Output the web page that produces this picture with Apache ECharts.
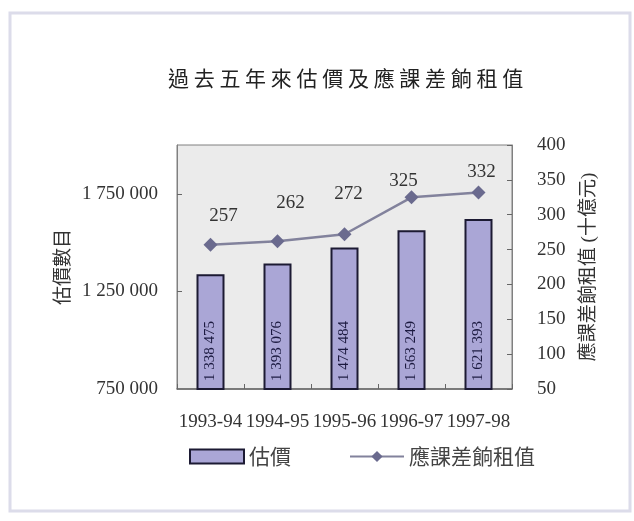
<!DOCTYPE html>
<html>
<head>
<meta charset="utf-8">
<script src="https://cdn.jsdelivr.net/npm/echarts@6/dist/echarts.min.js"></script>
<style>
  html, body { margin: 0; padding: 0; background: #ffffff; }
  #chart { width: 634px; height: 521px; }
</style>
</head>
<body>
<div id="chart"></div>
<script>
// Assessment years
const categories = ['1993-94', '1994-95', '1995-96', '1996-97', '1997-98'];
// Number of assessments (left axis)
const assessmentCounts = [1338475, 1393076, 1474484, 1563249, 1621393];
// Rateable value in HK$ billion (right axis)
const rateableValues = [257, 262, 272, 325, 332];
// Left axis labelled values
const countAxisLabels = [750000, 1250000, 1750000];

const titleText = '過去五年來估價及應課差餉租值';
const barName = '估價';
const lineName = '應課差餉租值';

// Small per-point nudges so value labels sit clear of the line
const lineLabelNudge = [[13, -29], [13, -38], [4, -40], [-8, -16], [3, -20]];

const SERIF = "'Liberation Serif', 'Noto Sans CJK TC', serif";
const CJK = "'Noto Sans CJK TC', sans-serif";

const spaced = s => s.split('').join(' ');
const groupDigits = v => String(v).replace(/\B(?=(\d{3})+(?!\d))/g, ' ');

const chart = echarts.init(document.getElementById('chart'), null, { renderer: 'canvas' });

chart.setOption({
  animation: false,
  backgroundColor: '#ffffff',
  graphic: [{
    type: 'rect',
    shape: { x: 10, y: 13, width: 620, height: 498 },
    style: { fill: null, stroke: '#dcdcea', lineWidth: 3 },
    silent: true
  }],
  title: {
    text: spaced(titleText),
    left: 163,
    top: 63,
    textStyle: { fontFamily: CJK, fontSize: 21, fontWeight: 'normal', color: '#222222' }
  },
  legend: {
    left: 184,
    top: 441,
    itemWidth: 54,
    itemHeight: 14,
    itemGap: 58,
    textStyle: { fontFamily: CJK, fontSize: 21, color: '#444444' },
    data: [{ name: barName, icon: 'rect' }, lineName]
  },
  grid: {
    left: 177,
    top: 145,
    width: 335,
    height: 244,
    show: true,
    backgroundColor: '#ebebeb',
    borderColor: '#808080',
    borderWidth: 1
  },
  xAxis: {
    type: 'category',
    data: categories,
    axisLine: { lineStyle: { color: '#666666', width: 1.5 } },
    axisTick: { show: true, inside: true, length: 5, lineStyle: { color: '#666666' } },
    axisLabel: { interval: 0, margin: 24, fontFamily: SERIF, fontSize: 19, color: '#333333' }
  },
  yAxis: [{
    type: 'value',
    min: 750000,
    max: 2000000,
    interval: 250000,
    name: '估價數目',
    nameLocation: 'middle',
    nameRotate: 90,
    nameGap: 100,
    nameTextStyle: { fontFamily: CJK, fontSize: 19, color: '#333333' },
    splitLine: { show: false },
    axisLine: { show: true, lineStyle: { color: '#808080' } },
    axisTick: { show: true, inside: true, length: 5, customValues: [1250000, 1750000], lineStyle: { color: '#666666' } },
    axisLabel: {
      customValues: countAxisLabels,
      margin: 19,
      fontFamily: SERIF,
      fontSize: 19,
      color: '#333333',
      formatter: v => groupDigits(v)
    }
  }, {
    type: 'value',
    min: 50,
    max: 400,
    interval: 50,
    position: 'right',
    name: '應課差餉租值 (十億元)',
    nameLocation: 'middle',
    nameRotate: 90,
    nameGap: 68,
    nameTextStyle: { fontFamily: SERIF, fontSize: 19, color: '#333333' },
    splitLine: { show: false },
    axisLine: { show: true, lineStyle: { color: '#808080' } },
    axisTick: { show: true, inside: true, length: 5, lineStyle: { color: '#666666' } },
    axisLabel: { margin: 25, fontFamily: SERIF, fontSize: 19, color: '#333333' }
  }],
  series: [{
    name: barName,
    type: 'bar',
    yAxisIndex: 0,
    barWidth: 28,
    data: assessmentCounts,
    itemStyle: { color: '#aaa6d6', borderColor: '#1c1a33', borderWidth: 2 },
    label: {
      show: true,
      position: 'insideBottom',
      rotate: 90,
      align: 'left',
      verticalAlign: 'middle',
      distance: 9,
      fontFamily: SERIF,
      fontSize: 15,
      color: '#1c1a40',
      formatter: p => groupDigits(p.value)
    }
  }, {
    name: lineName,
    type: 'line',
    yAxisIndex: 1,
    data: rateableValues.map((v, i) => ({
      value: v,
      label: { offset: lineLabelNudge[i] }
    })),
    symbol: 'diamond',
    symbolSize: 14,
    lineStyle: { color: '#82829c', width: 2.5 },
    itemStyle: { color: '#6a6a8e' },
    label: {
      show: true,
      position: 'inside',
      fontFamily: SERIF,
      fontSize: 19,
      color: '#333333'
    }
  }]
});
</script>
</body>
</html>
